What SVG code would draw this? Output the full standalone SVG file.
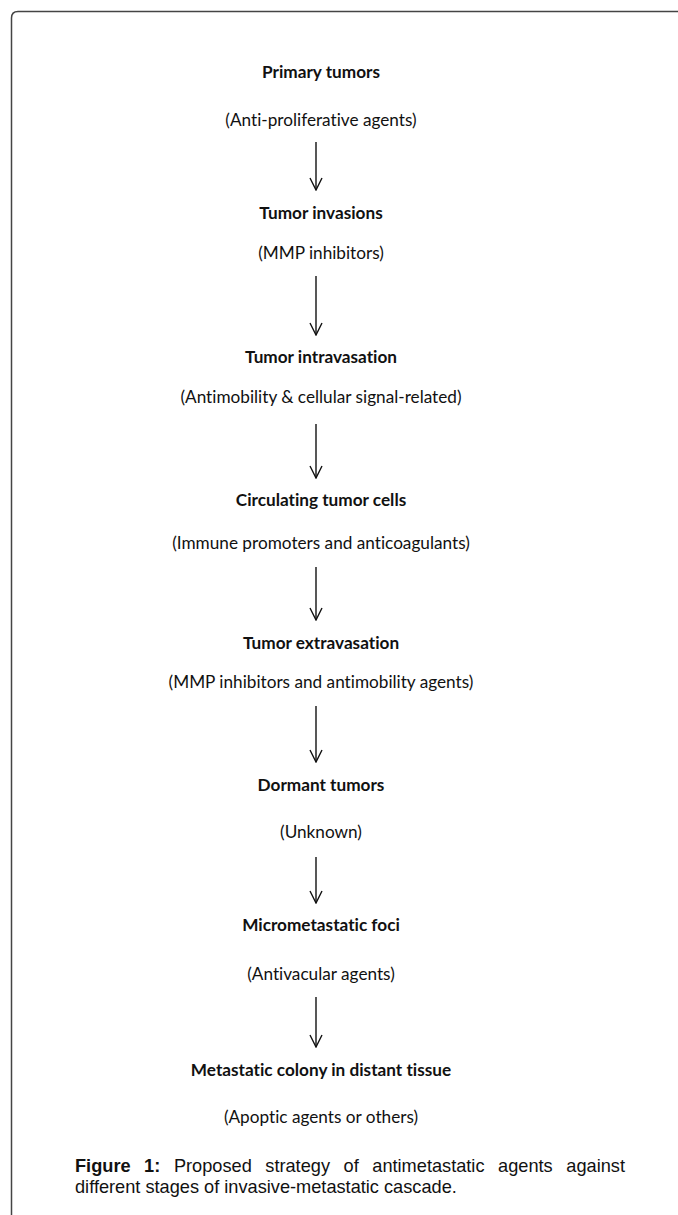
<svg xmlns="http://www.w3.org/2000/svg" width="678" height="1215" viewBox="0 0 678 1215">
<style>
.t{font-family:Lato,"Open Sans",sans-serif;font-size:17.2px;fill:#111;text-anchor:middle;font-variant-ligatures:none}
.b{font-weight:bold}
.c{font-family:"Liberation Sans",Arial,sans-serif;font-size:18.2px;fill:#111;font-variant-ligatures:none}
.a{stroke:#111;stroke-width:1.4;fill:none}
</style>
<defs>
<marker id="ah" viewBox="0 0 14 14" refX="13" refY="7" markerWidth="14" markerHeight="14" markerUnits="userSpaceOnUse" orient="auto">
<path d="M1 1 L13 7 L1 13" fill="none" stroke="#111" stroke-width="1.4"/>
</marker>
</defs>
<rect width="678" height="1215" fill="#fff"/>
<path d="M11.5 1215 V18 Q11.5 11.5 18 11.5 H678" fill="none" stroke="#444" stroke-width="1.5"/>
<g id="n1"><text class="t b" x="321" y="78">Primary tumors</text><text class="t" x="321" y="126">(Anti-proliferative agents)</text></g>
<g id="n2"><text class="t b" x="321" y="219">Tumor invasions</text><text class="t" x="321" y="259">(MMP inhibitors)</text></g>
<g id="n3"><text class="t b" x="321" y="363">Tumor intravasation</text><text class="t" x="321" y="403">(Antimobility &amp; cellular signal-related)</text></g>
<g id="n4"><text class="t b" x="321" y="506">Circulating tumor cells</text><text class="t" x="321" y="549">(Immune promoters and anticoagulants)</text></g>
<g id="n5"><text class="t b" x="321" y="649">Tumor extravasation</text><text class="t" x="321" y="688">(MMP inhibitors and antimobility agents)</text></g>
<g id="n6"><text class="t b" x="321" y="791">Dormant tumors</text><text class="t" x="321" y="838">(Unknown)</text></g>
<g id="n7"><text class="t b" x="321" y="931">Micrometastatic foci</text><text class="t" x="321" y="980">(Antivacular agents)</text></g>
<g id="n8"><text class="t b" x="321" y="1076">Metastatic colony in distant tissue</text><text class="t" x="321" y="1123">(Apoptic agents or others)</text></g>
<g id="connectors">
<line class="a" x1="316" y1="142" x2="316" y2="190" marker-end="url(#ah)"/>
<line class="a" x1="316" y1="276" x2="316" y2="335" marker-end="url(#ah)"/>
<line class="a" x1="316" y1="424" x2="316" y2="478" marker-end="url(#ah)"/>
<line class="a" x1="316" y1="567" x2="316" y2="620" marker-end="url(#ah)"/>
<line class="a" x1="316" y1="706" x2="316" y2="762" marker-end="url(#ah)"/>
<line class="a" x1="316" y1="857" x2="316" y2="903" marker-end="url(#ah)"/>
<line class="a" x1="316" y1="997" x2="316" y2="1047" marker-end="url(#ah)"/>
</g>
<g id="caption">
<text class="c" y="1172"><tspan x="75" font-weight="bold">Figure</tspan><tspan x="144.1" font-weight="bold">1:</tspan><tspan x="173.9">Proposed</tspan><tspan x="265.3">strategy</tspan><tspan x="343.6">of</tspan><tspan x="372.3">antimetastatic</tspan><tspan x="498.1">agents</tspan><tspan x="566.3">against</tspan></text>
<text class="c" x="75" y="1193">different stages of invasive-metastatic cascade.</text>
</g>
</svg>
